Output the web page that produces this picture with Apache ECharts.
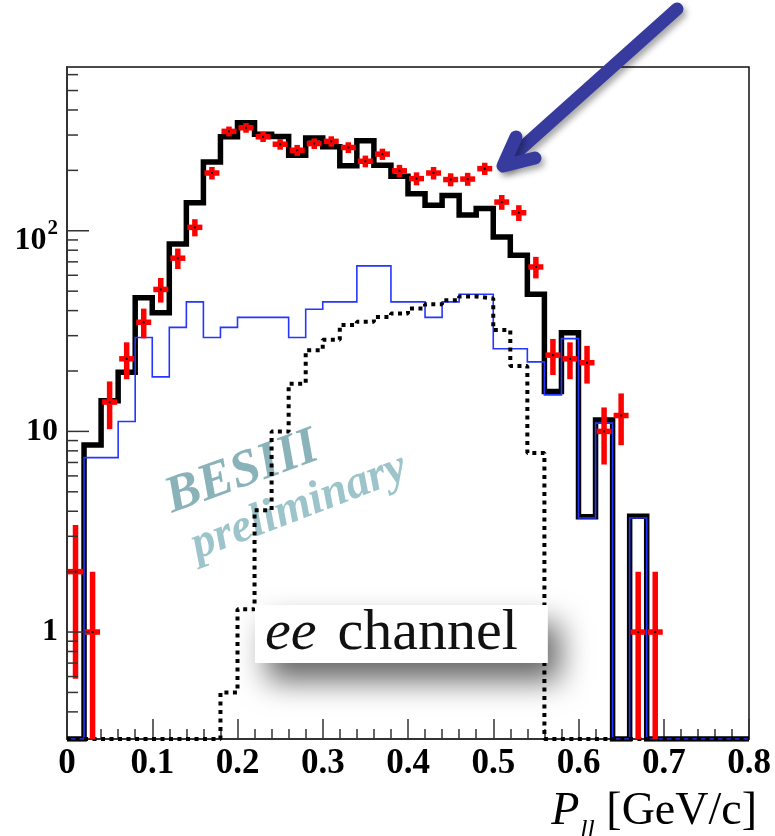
<!DOCTYPE html>
<html>
<head>
<meta charset="utf-8">
<title>ee channel - P_ll</title>
<script src="https://cdn.jsdelivr.net/npm/echarts@6/dist/echarts.min.js"></script>
<style>
  html, body { margin: 0; padding: 0; background: #fff; }
  #grafica { width: 775px; height: 836px; }
</style>
</head>
<body>
<div id="grafica"></div>
<script>
// bordes de los bins (ancho 0.02 GeV/c)
var binEdges = [0, 0.02, 0.04, 0.06, 0.08, 0.10, 0.12, 0.14, 0.16, 0.18,
                0.20, 0.22, 0.24, 0.26, 0.28, 0.30, 0.32, 0.34, 0.36, 0.38,
                0.40, 0.42, 0.44, 0.46, 0.48, 0.50, 0.52, 0.54, 0.56, 0.58,
                0.60, 0.62, 0.64, 0.66, 0.68, 0.70, 0.72, 0.74, 0.76, 0.78, 0.80];

// histograma total (linea negra gruesa)
var mcTotal = [0, 8.55, 14.2, 19.7, 46.4, 39, 86, 138, 220, 294,
               345, 303, 295, 238, 290, 262, 211, 281, 212, 187,
               153, 134, 150, 120, 129, 93, 75.5, 48.3, 15.8, 31,
               3.75, 11.4, 0, 3.78, 0, 0, 0, 0, 0, 0];

// fondo (linea azul fina)
var mcFondo = [0, 7.4, 7.4, 11.2, 29.4, 18.7, 33, 44.2, 29.4, 33,
               37, 37, 37, 29.4, 40.6, 44.2, 44.2, 66.8, 66.8, 44.2,
               44.2, 37, 44.2, 48.3, 48.3, 25.8, 25.8, 22.2, 15.2, 29,
               3.7, 11.0, 0, 3.7, 0, 0, 0, 0, 0, 0];

// senal (linea punteada)
var mcSenal = [0, 0, 0, 0, 0, 0, 0, 0, 0, 0.5,
               1.3, 4.05, 10, 17.3, 25.4, 28.6, 33.9, 35.2, 37.2, 38.7,
               41, 43, 45, 47, 46, 32, 21.2, 7.8, 0, 0,
               0, 0, 0, 0, 0, 0, 0, 0, 0, 0];

// datos (puntos rojos con error sqrt(n))
var datosX = [0.01, 0.03, 0.05, 0.07, 0.09, 0.11, 0.13, 0.15, 0.17, 0.19,
              0.21, 0.23, 0.25, 0.27, 0.29, 0.31, 0.33, 0.35, 0.37, 0.39,
              0.41, 0.43, 0.45, 0.47, 0.49, 0.51, 0.53, 0.55, 0.57, 0.59,
              0.61, 0.63, 0.65, 0.67, 0.69];
var datosN = [2, 1, 14, 23, 35, 51, 73, 104, 194, 313,
              326, 294, 270, 252, 272, 279, 260, 222, 241, 199,
              182, 194, 180, 181, 204, 139, 123, 66, 24, 23,
              22, 10, 12, 1, 1];

// marcas del eje y (log)
var yMayores = [1, 10, 100];
var yMenores = [0.4, 0.5, 0.6, 0.7, 0.8, 0.9,
                2, 3, 4, 5, 6, 7, 8, 9,
                20, 30, 40, 50, 60, 70, 80, 90,
                200, 300, 400, 500, 600];

var Y_MIN = 0.293, Y_MAX = 655;

// convierte un histograma en puntos para step:'end'
function pasos(valores) {
    var pts = [];
    for (var i = 0; i < valores.length; i++) {
        pts.push([binEdges[i], Math.max(valores[i], Y_MIN)]);
    }
    pts.push([binEdges[valores.length], Math.max(valores[valores.length - 1], Y_MIN)]);
    return pts;
}

var puntos = datosX.map(function (x, i) { return [x, datosN[i]]; });
var marcasY = yMayores.map(function (v) { return [0, v, 1]; })
    .concat(yMenores.map(function (v) { return [0, v, 0]; }));

var SERIF = "'Liberation Serif', 'Times New Roman', serif";

var chart = echarts.init(document.getElementById('grafica'));

chart.setOption({
    animation: false,
    textStyle: { fontFamily: SERIF },
    grid: {
        left: 67, right: 26, top: 67, bottom: 97,
        outerBoundsMode: 'none', containLabel: false,
        show: true, borderColor: '#111', borderWidth: 1.5
    },
    // caja "ee channel"
    title: {
        text: '{e|ee}{c|channel}',
        left: 255, top: 600,
        padding: [0, 30, 0, 10],
        backgroundColor: '#fff',
        shadowBlur: 30, shadowColor: 'rgba(0,0,0,0.6)',
        shadowOffsetX: 12, shadowOffsetY: 18,
        textStyle: {
            rich: {
                e: { fontFamily: SERIF, fontStyle: 'italic', fontWeight: 'normal', fontSize: 58, color: '#111', lineHeight: 68 },
                c: { fontFamily: SERIF, fontWeight: 'normal', fontSize: 58, color: '#111', lineHeight: 68, padding: [0, 0, 0, 21] }
            }
        }
    },
    xAxis: {
        type: 'value', min: 0, max: 0.8, interval: 0.1,
        axisLine: { lineStyle: { color: '#333', width: 2 } },
        axisTick: { inside: true, length: 20, lineStyle: { color: '#333', width: 1.5 } },
        minorTick: { show: true, splitNumber: 5, length: 10, lineStyle: { color: '#333', width: 1.5 } },
        splitLine: { show: false },
        axisLabel: {
            margin: 7, color: '#000', fontFamily: SERIF,
            fontWeight: 'bold', fontSize: 35
        },
        name: '{p|P}{s|ll}{u| [GeV/c]}',
        nameLocation: 'end',
        nameGap: 8,
        nameTextStyle: {
            align: 'right', verticalAlign: 'top', padding: [50, 0, 0, 0],
            rich: {
                p: { fontFamily: SERIF, fontStyle: 'italic', fontSize: 46, color: '#000', verticalAlign: 'top' },
                s: { fontFamily: SERIF, fontStyle: 'italic', fontSize: 26, color: '#000', verticalAlign: 'top', padding: [28, 0, 0, 1] },
                u: { fontFamily: SERIF, fontSize: 46, color: '#000', verticalAlign: 'top' }
            }
        }
    },
    yAxis: {
        type: 'log', logBase: 10, min: Y_MIN, max: Y_MAX,
        axisLine: { show: true, lineStyle: { color: '#333', width: 2 } },
        axisTick: { show: false },
        splitLine: { show: false },
        axisLabel: {
            margin: 9, color: '#000', fontFamily: SERIF,
            fontWeight: 'bold', fontSize: 32,
            formatter: function (v) {
                if (Math.abs(v - 100) < 1e-6) return '{b|10}{sup|2}';
                if (Math.abs(v - 10) < 1e-6) return '10';
                if (Math.abs(v - 1) < 1e-6) return '1';
                return '';
            },
            rich: {
                b: { fontFamily: SERIF, fontWeight: 'bold', fontSize: 32, color: '#000', verticalAlign: 'top', padding: [20, 0, 0, 0] },
                sup: { fontFamily: SERIF, fontWeight: 'bold', fontSize: 21, color: '#000', verticalAlign: 'top', padding: [13, 0, 0, 1] }
            }
        }
    },
    series: [
        {
            name: 'total', type: 'line', step: 'end', symbol: 'none', z: 2,
            data: pasos(mcTotal),
            lineStyle: { color: '#000', width: 5.5, join: 'miter' }
        },
        {
            name: 'fondo', type: 'line', step: 'end', symbol: 'none', z: 3,
            data: pasos(mcFondo),
            lineStyle: { color: '#2436ff', width: 1.6, join: 'miter' }
        },
        {
            name: 'senal', type: 'line', step: 'end', symbol: 'none', z: 4,
            data: pasos(mcSenal),
            lineStyle: { color: '#000', width: 4, type: [4, 4.5] }
        },
        {
            // puntos de datos con barras de error
            name: 'datos', type: 'custom', z: 5,
            data: puntos,
            renderItem: function (params, api) {
                var x = api.value(0), n = api.value(1);
                var err = Math.sqrt(n);
                var c = api.coord([x, n]);
                var arriba = api.coord([x, n + err]);
                var abajo = api.coord([x, Math.max(n - err, Y_MIN)]);
                return {
                    type: 'group',
                    children: [
                        { type: 'line', shape: { x1: c[0], y1: arriba[1], x2: c[0], y2: abajo[1] },
                          style: { stroke: '#ff0000', lineWidth: 5.5 } },
                        { type: 'line', shape: { x1: c[0] - 7.5, y1: c[1], x2: c[0] + 7.5, y2: c[1] },
                          style: { stroke: '#ff0000', lineWidth: 5.5 } },
                        { type: 'rect', shape: { x: c[0] - 1, y: c[1] - 1, width: 2, height: 2 },
                          style: { fill: '#000' } }
                    ]
                };
            }
        },
        {
            // marcas mayores y menores del eje logaritmico
            name: 'marcasY', type: 'custom', z: 6, silent: true,
            data: marcasY,
            renderItem: function (params, api) {
                var p = api.coord([0, api.value(1)]);
                var largo = api.value(2) ? 22 : 11;
                return {
                    type: 'line',
                    shape: { x1: p[0], y1: p[1], x2: p[0] + largo, y2: p[1] },
                    style: { stroke: '#333', lineWidth: 1.5 }
                };
            }
        }
    ],
    graphic: [
        {
            type: 'text', x: 242, y: 473, rotation: 20 * Math.PI / 180, z: 1,
            style: {
                text: 'BESIII',
                fontFamily: SERIF, fontStyle: 'italic', fontWeight: 'bold', fontSize: 52,
                align: 'center', verticalAlign: 'middle',
                fill: '#8ab3b9', textFill: '#8ab3b9'
            }
        },
        {
            type: 'text', x: 299, y: 507, rotation: 21 * Math.PI / 180, z: 1,
            style: {
                text: 'preliminary',
                fontFamily: SERIF, fontStyle: 'italic', fontWeight: 'bold', fontSize: 47,
                align: 'center', verticalAlign: 'middle',
                fill: '#9cc4ca', textFill: '#9cc4ca'
            }
        },
        {
            // flecha azul
            type: 'group', z: 30,
            children: [
                {
                    type: 'line',
                    shape: { x1: 677, y1: 9, x2: 506, y2: 162 },
                    style: {
                        stroke: '#363b9d', lineWidth: 13, lineCap: 'round',
                        shadowBlur: 6, shadowColor: 'rgba(0,0,0,0.35)', shadowOffsetX: 3, shadowOffsetY: 4
                    }
                },
                {
                    type: 'polyline',
                    shape: { points: [[516, 137], [503, 166], [535, 158]] },
                    style: {
                        stroke: '#363b9d', lineWidth: 13, lineCap: 'round', lineJoin: 'round', fill: null,
                        shadowBlur: 6, shadowColor: 'rgba(0,0,0,0.35)', shadowOffsetX: 3, shadowOffsetY: 4
                    }
                }
            ]
        }
    ]
});
</script>
</body>
</html>
